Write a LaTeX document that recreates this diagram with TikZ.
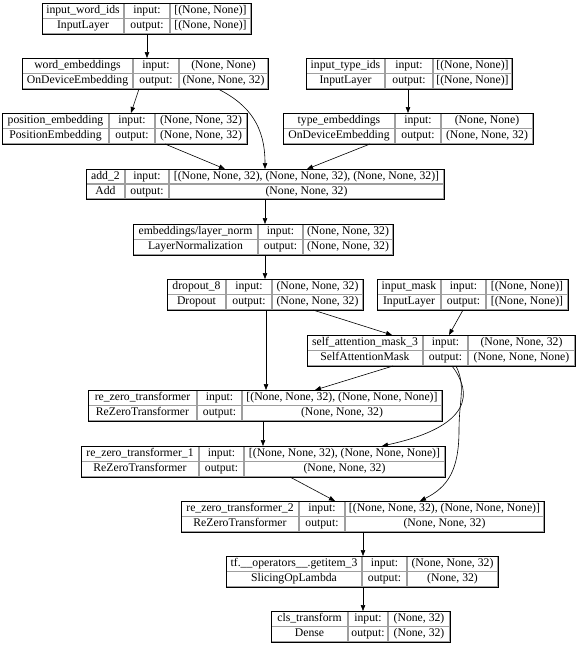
\documentclass[tikz,border=0pt]{standalone}
\usepackage{fontspec}
\setmainfont{Liberation Serif}
\usetikzlibrary{arrows.meta}
\tikzset{
  frame/.style={draw=black, line width=0.6pt, inner sep=0pt, outer sep=0pt},
  div/.style={draw=gray!75, line width=1.2pt},
  edge/.style={draw=black, line width=0.6pt, -{Triangle[length=6pt,width=4.5pt]}},
  txt/.style={inner sep=0pt, font=\fontsize{11.7}{13}\selectfont, text height=7.8pt, text depth=2.5pt},
}
\newcommand\kframe[7]{%
  \pgfmathsetmacro\kw{#5-#2}\pgfmathsetmacro\kh{#7-#6}%
  \node[frame, minimum width=\kw pt, minimum height=\kh pt] (#1) at ({(#2+#5)/2},{(#6+#7)/2}) {};
  \draw[div] (#3,#6) -- (#3,#7);
  \draw[div] (#4,#6) -- (#4,#7);
  \draw[div] (#2,{(#6+#7)/2}) -- (#5,{(#6+#7)/2});
  \draw[div] ({#5-0.6},#6) -- ({#5-0.6},{#7-0.6}) -- (#2,{#7-0.6});
  \draw[black, line width=0.6pt] (#2,#7) -- (#2,#6) -- (#5,#6);
  \draw[black, line width=0.5pt] (#2,#7) -- (#5,#7) -- (#5,#6);
  \coordinate (#1-a1) at ({(#2+#3)/2},{(3*#6+#7)/4});
  \coordinate (#1-a2) at ({(#2+#3)/2},{(#6+3*#7)/4});
  \coordinate (#1-b1) at ({(#3+#4)/2},{(3*#6+#7)/4});
  \coordinate (#1-b2) at ({(#3+#4)/2},{(#6+3*#7)/4});
  \coordinate (#1-c1) at ({(#4+#5)/2},{(3*#6+#7)/4});
  \coordinate (#1-c2) at ({(#4+#5)/2},{(#6+3*#7)/4});
}
\newcommand\ktext[5]{%
  \node[txt] (#1-t) at (#1-a1) {#2};
  \node[txt] (#1-k) at (#1-a2) {#3};
  \node[txt] (#1-il) at (#1-b1) {input:};
  \node[txt] (#1-ol) at (#1-b2) {output:};
  \node[txt] (#1-iv) at (#1-c1) {#4};
  \node[txt] (#1-ov) at (#1-c2) {#5};
}
\begin{document}
\begin{tikzpicture}[x=1pt,y=-1pt]
\useasboundingbox[fill=white] (0,0) rectangle (576,645);

\kframe{iwi}{42}{124}{170}{251}{3}{34}
\ktext{iwi}{input\_word\_ids}{InputLayer}{[(None, None)]}{[(None, None)]}

\kframe{we}{22}{133}{179}{268}{58}{89}
\ktext{we}{word\_embeddings}{OnDeviceEmbedding}{(None, None)}{(None, None, 32)}

\kframe{iti}{306}{385}{433}{512}{58}{89}
\ktext{iti}{input\_type\_ids}{InputLayer}{[(None, None)]}{[(None, None)]}

\kframe{pe}{2}{109}{155}{247}{113}{144}
\ktext{pe}{position\_embedding}{PositionEmbedding}{(None, None, 32)}{(None, None, 32)}

\kframe{te}{283}{395}{441}{533}{113}{144}
\ktext{te}{type\_embeddings}{OnDeviceEmbedding}{(None, None)}{(None, None, 32)}

\kframe{add}{86}{125}{169}{444}{169}{199}
\ktext{add}{add\_2}{Add}{[(None, None, 32), (None, None, 32), (None, None, 32)]}{(None, None, 32)}

\kframe{ln}{133}{258}{303}{393}{224}{255}
\ktext{ln}{embeddings/layer\_norm}{LayerNormalization}{(None, None, 32)}{(None, None, 32)}

\kframe{do}{167}{226}{272}{363}{279}{310}
\ktext{do}{dropout\_8}{Dropout}{(None, None, 32)}{(None, None, 32)}

\kframe{im}{377}{441}{486}{568}{279}{310}
\ktext{im}{input\_mask}{InputLayer}{[(None, None)]}{[(None, None)]}

\kframe{sam}{307}{423}{468}{575}{335}{366}
\ktext{sam}{self\_attention\_mask\_3}{SelfAttentionMask}{(None, None, 32)}{(None, None, None)}

\kframe{rz0}{88}{197}{242}{442}{390}{421}
\ktext{rz0}{re\_zero\_transformer}{ReZeroTransformer}{[(None, None, 32), (None, None, None)]}{(None, None, 32)}

\kframe{rz1}{81}{199}{244}{445}{446}{477}
\ktext{rz1}{re\_zero\_transformer\_1}{ReZeroTransformer}{[(None, None, 32), (None, None, None)]}{(None, None, 32)}

\kframe{rz2}{181}{299}{345}{544}{501}{532}
\ktext{rz2}{re\_zero\_transformer\_2}{ReZeroTransformer}{[(None, None, 32), (None, None, None)]}{(None, None, 32)}

\kframe{gi}{226}{362}{407}{498}{556}{587}
\ktext{gi}{tf.\_\_operators\_\_.getitem\_3}{SlicingOpLambda}{(None, None, 32)}{(None, 32)}

\kframe{cls}{271}{348}{388}{450}{611}{642}
\ktext{cls}{cls\_transform}{Dense}{(None, 32)}{(None, 32)}

% connectors
\draw[edge] ([xshift=105pt]iwi.south west) -- ([xshift=125pt]we.north west);
\draw[edge] ([xshift=117pt]we.south west) -- ([xshift=129pt]pe.north west);
\draw[edge] ([xshift=196pt]we.south west) .. controls +(32,16) and +(0,-42) .. ([xshift=179pt]add.north west);
\draw[edge] ([xshift=102pt]iti.south west) -- ([xshift=125pt]te.north west);
\draw[edge] ([xshift=87pt]te.south west) -- ([xshift=221pt]add.north west);
\draw[edge] ([xshift=163pt]pe.south west) -- ([xshift=139pt]add.north west);
\draw[edge] ([xshift=179pt]add.south west) -- ([xshift=132pt]ln.north west);
\draw[edge] ([xshift=132pt]ln.south west) -- ([xshift=98pt]do.north west);
\draw[edge] ([xshift=99pt]do.south west) -- ([xshift=178pt]rz0.north west);
\draw[edge] ([xshift=146pt]do.south west) -- ([xshift=85pt]sam.north west);
\draw[edge] ([xshift=86pt]im.south west) -- ([xshift=142pt]sam.north west);
\draw[edge] ([xshift=86pt]sam.south west) -- ([xshift=227pt]rz0.north west);
\draw[edge] ([xshift=145pt]sam.south west) .. controls +(20,26) and +(92,-20) .. ([xshift=301pt]rz1.north west);
\draw[edge] ([xshift=149pt]sam.south west) .. controls +(10,20) and +(0,-30) .. ++(3,64) .. controls +(0,40) and +(28,-14) .. ([xshift=239pt]rz2.north west);
\draw[edge] ([xshift=175pt]rz0.south west) -- ([xshift=182pt]rz1.north west);
\draw[edge] ([xshift=209pt]rz1.south west) -- ([xshift=154pt]rz2.north west);
\draw[edge] ([xshift=182pt]rz2.south west) -- ([xshift=137pt]gi.north west);
\draw[edge] ([xshift=137pt]gi.south west) -- ([xshift=92pt]cls.north west);
\end{tikzpicture}
\end{document}
